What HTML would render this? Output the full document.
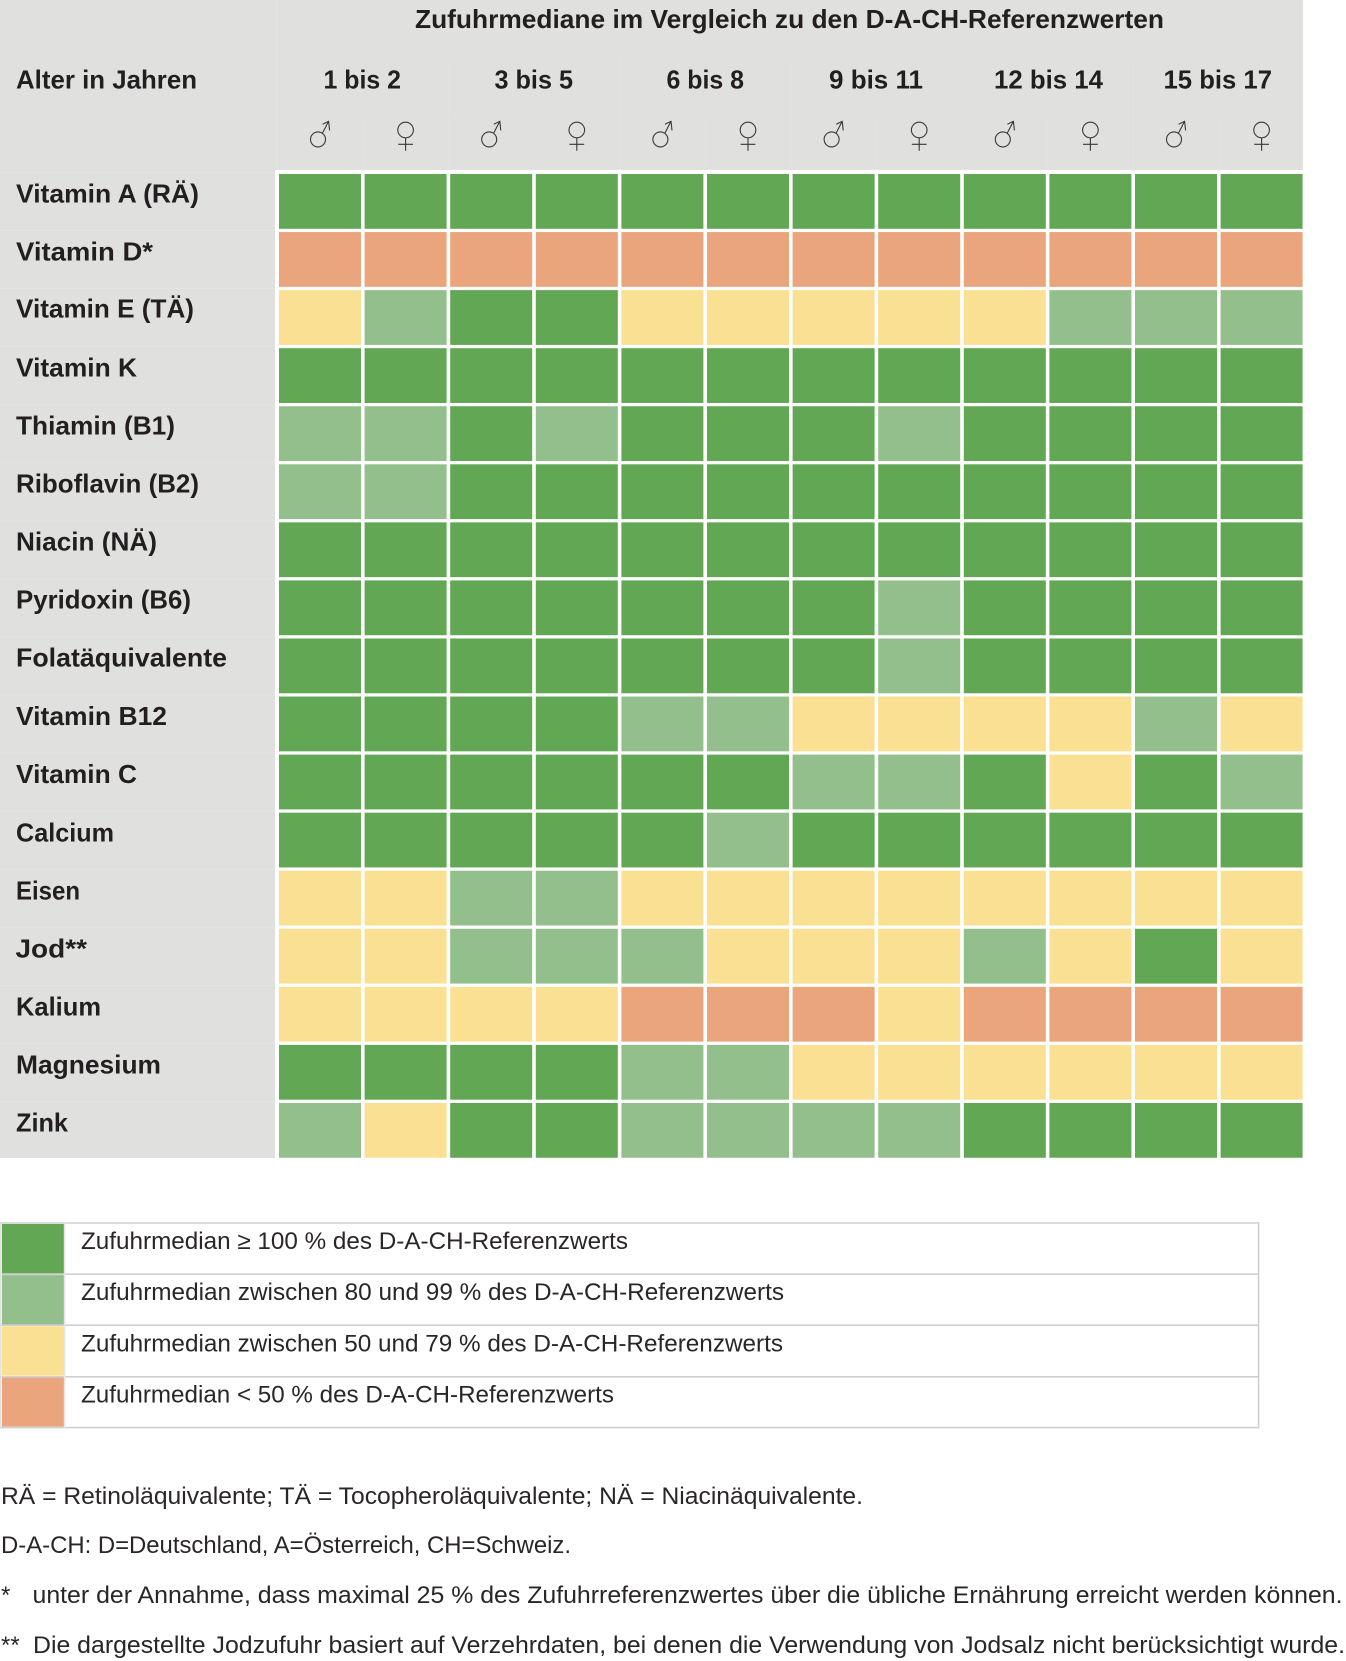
<!DOCTYPE html>
<html lang="de">
<head>
<meta charset="utf-8">
<title>Zufuhrmediane im Vergleich zu den D-A-CH-Referenzwerten</title>
<style>
  html, body { margin: 0; padding: 0; background: #ffffff; }
  svg { display: block; }
  text { font-family: "Liberation Sans", sans-serif; fill: #231f20; }
  .b { font-weight: 700; font-size: 26px; }
  .r { font-weight: 400; font-size: 24px; fill: #2a2627; }
</style>
</head>
<body>
<svg id="chart" xmlns="http://www.w3.org/2000/svg" width="1346" height="1661" viewBox="0 0 1346 1661">
  <rect x="0" y="0" width="1346" height="1661" fill="#ffffff"/>
  <rect x="0" y="0" width="1303" height="170" fill="#e0e0de"/>
  <rect x="0" y="170" width="275" height="988" fill="#e0e0de"/>
  <g id="header-lines" stroke="#e3e3e1" stroke-width="1">
    <line x1="277" y1="0" x2="277" y2="170"/>
    <line x1="0" y1="115.5" x2="1303" y2="115.5" stroke="#e2e2e0"/>
  </g>
  <g id="row-lines" stroke="#e4e4e2" stroke-width="1"></g>

  <text class="b" x="415" y="28" textLength="749" lengthAdjust="spacingAndGlyphs">Zufuhrmediane im Vergleich zu den D-A-CH-Referenzwerten</text>
  <text class="b" x="16" y="88.7" textLength="181" lengthAdjust="spacingAndGlyphs">Alter in Jahren</text>

  <text class="b" x="323.5" y="88.7" textLength="77.5" lengthAdjust="spacingAndGlyphs">1 bis 2</text>
  <text class="b" x="494.5" y="88.7" textLength="78.5" lengthAdjust="spacingAndGlyphs">3 bis 5</text>
  <text class="b" x="666.5" y="88.7" textLength="77.5" lengthAdjust="spacingAndGlyphs">6 bis 8</text>
  <text class="b" x="829" y="88.7" textLength="94" lengthAdjust="spacingAndGlyphs">9 bis 11</text>
  <text class="b" x="994" y="88.7" textLength="109" lengthAdjust="spacingAndGlyphs">12 bis 14</text>
  <text class="b" x="1163.5" y="88.7" textLength="108.5" lengthAdjust="spacingAndGlyphs">15 bis 17</text>

  <g id="sex-icons" fill="none" stroke="#3a3738" stroke-width="1.1"></g>

  <g>
    <text class="b" x="16" y="202.7" textLength="183" lengthAdjust="spacingAndGlyphs">Vitamin A (RÄ)</text>
    <text class="b" x="16" y="260.7" textLength="137" lengthAdjust="spacingAndGlyphs">Vitamin D*</text>
    <text class="b" x="16" y="317.7" textLength="178" lengthAdjust="spacingAndGlyphs">Vitamin E (TÄ)</text>
    <text class="b" x="16" y="376.7" textLength="121" lengthAdjust="spacingAndGlyphs">Vitamin K</text>
    <text class="b" x="16" y="434.7" textLength="159" lengthAdjust="spacingAndGlyphs">Thiamin (B1)</text>
    <text class="b" x="16" y="492.7" textLength="183" lengthAdjust="spacingAndGlyphs">Riboflavin (B2)</text>
    <text class="b" x="16" y="550.7" textLength="141" lengthAdjust="spacingAndGlyphs">Niacin (NÄ)</text>
    <text class="b" x="16" y="608.7" textLength="175" lengthAdjust="spacingAndGlyphs">Pyridoxin (B6)</text>
    <text class="b" x="16" y="666.7" textLength="211" lengthAdjust="spacingAndGlyphs">Folatäquivalente</text>
    <text class="b" x="16" y="725" textLength="151" lengthAdjust="spacingAndGlyphs">Vitamin B12</text>
    <text class="b" x="16" y="783" textLength="121" lengthAdjust="spacingAndGlyphs">Vitamin C</text>
    <text class="b" x="16" y="841.7" textLength="98" lengthAdjust="spacingAndGlyphs">Calcium</text>
    <text class="b" x="16" y="899.5" textLength="64" lengthAdjust="spacingAndGlyphs">Eisen</text>
    <text class="b" x="15.5" y="957.7" textLength="71.5" lengthAdjust="spacingAndGlyphs">Jod**</text>
    <text class="b" x="16" y="1015.5" textLength="85" lengthAdjust="spacingAndGlyphs">Kalium</text>
    <text class="b" x="16" y="1073.5" textLength="145" lengthAdjust="spacingAndGlyphs">Magnesium</text>
    <text class="b" x="16" y="1131.7" textLength="52" lengthAdjust="spacingAndGlyphs">Zink</text>
  </g>

  <g id="cells"></g>

  <g>
    <g id="legend-swatches"></g>
    <g fill="none" stroke="#d0d0d0" stroke-width="1.6">
      <line x1="0" y1="1223" x2="1259" y2="1223"/>
      <line x1="0" y1="1274.2" x2="1259" y2="1274.2"/>
      <line x1="0" y1="1325.2" x2="1259" y2="1325.2"/>
      <line x1="0" y1="1376.8" x2="1259" y2="1376.8"/>
      <line x1="0" y1="1427.6" x2="1259" y2="1427.6"/>
      <line x1="1258.6" y1="1222.2" x2="1258.6" y2="1428.4"/>
      <line x1="64.6" y1="1223" x2="64.6" y2="1428" stroke="#e6e6e6"/>
      <line x1="0.8" y1="1223" x2="0.8" y2="1428" stroke="#e2e2e2"/>
    </g>
    <text class="r" x="81" y="1249" textLength="547" lengthAdjust="spacingAndGlyphs">Zufuhrmedian ≥ 100 % des D-A-CH-Referenzwerts</text>
    <text class="r" x="81" y="1300" textLength="703" lengthAdjust="spacingAndGlyphs">Zufuhrmedian zwischen 80 und 99 % des D-A-CH-Referenzwerts</text>
    <text class="r" x="81" y="1351.5" textLength="702" lengthAdjust="spacingAndGlyphs">Zufuhrmedian zwischen 50 und 79 % des D-A-CH-Referenzwerts</text>
    <text class="r" x="81" y="1402.5" textLength="533" lengthAdjust="spacingAndGlyphs">Zufuhrmedian &lt; 50 % des D-A-CH-Referenzwerts</text>
  </g>

  <g>
    <text class="r" x="1" y="1504" textLength="862" lengthAdjust="spacingAndGlyphs">RÄ = Retinoläquivalente; TÄ = Tocopheroläquivalente; NÄ = Niacinäquivalente.</text>
    <text class="r" x="1" y="1553" textLength="570" lengthAdjust="spacingAndGlyphs">D-A-CH: D=Deutschland, A=Österreich, CH=Schweiz.</text>
    <text class="r" x="1" y="1603">*</text>
    <text class="r" x="32.5" y="1603" textLength="1310" lengthAdjust="spacingAndGlyphs">unter der Annahme, dass maximal 25 % des Zufuhrreferenzwertes über die übliche Ernährung erreicht werden können.</text>
    <text class="r" x="1" y="1653">**</text>
    <text class="r" x="33" y="1653" textLength="1312" lengthAdjust="spacingAndGlyphs">Die dargestellte Jodzufuhr basiert auf Verzehrdaten, bei denen die Verwendung von Jodsalz nicht berücksichtigt wurde.</text>
  </g>
</svg>

<script>
// Categories
const nutrients = ["Vitamin A (RÄ)", "Vitamin D*", "Vitamin E (TÄ)", "Vitamin K", "Thiamin (B1)", "Riboflavin (B2)", "Niacin (NÄ)", "Pyridoxin (B6)", "Folatäquivalente", "Vitamin B12", "Vitamin C", "Calcium", "Eisen", "Jod**", "Kalium", "Magnesium", "Zink"];
const ageGroups = ["1 bis 2", "3 bis 5", "6 bis 8", "9 bis 11", "12 bis 14", "15 bis 17"];
const sexes = ["maennlich", "weiblich"];
// Intake level per nutrient: 3 = at least 100 %, 2 = 80-99 %, 1 = 50-79 %, 0 = below 50 %
// Each row lists male, female for every age group.
const vitaminA = [3,3,3,3,3,3,3,3,3,3,3,3];
const vitaminD = [0,0,0,0,0,0,0,0,0,0,0,0];
const vitaminE = [1,2,3,3,1,1,1,1,1,2,2,2];
const vitaminK = [3,3,3,3,3,3,3,3,3,3,3,3];
const thiamin = [2,2,3,2,3,3,3,2,3,3,3,3];
const riboflavin = [2,2,3,3,3,3,3,3,3,3,3,3];
const niacin = [3,3,3,3,3,3,3,3,3,3,3,3];
const pyridoxin = [3,3,3,3,3,3,3,2,3,3,3,3];
const folat = [3,3,3,3,3,3,3,2,3,3,3,3];
const vitaminB12 = [3,3,3,3,2,2,1,1,1,1,2,1];
const vitaminC = [3,3,3,3,3,3,2,2,3,1,3,2];
const calcium = [3,3,3,3,3,2,3,3,3,3,3,3];
const eisen = [1,1,2,2,1,1,1,1,1,1,1,1];
const jod = [1,1,2,2,2,1,1,1,2,1,3,1];
const kalium = [1,1,1,1,0,0,0,1,0,0,0,0];
const magnesium = [3,3,3,3,2,2,1,1,1,1,1,1];
const zink = [2,1,3,3,2,2,2,2,3,3,3,3];
const levels = [vitaminA, vitaminD, vitaminE, vitaminK, thiamin, riboflavin, niacin, pyridoxin, folat, vitaminB12, vitaminC, calcium, eisen, jod, kalium, magnesium, zink];
const legendLevels = [3, 2, 1, 0];

const SVG_NS = "http://www.w3.org/2000/svg";
function xCell(c) { return 279 + c * 85.6; }
function yCell(r) { return 174 + r * 58.06; }
function fillFor(level) {
  if (level >= 3) return "#62a754";
  if (level === 2) return "#93bf8c";
  if (level === 1) return "#fae092";
  return "#eba57d";
}
function slug(s) {
  return s.toLowerCase().replace(/ä/g, "ae").replace(/[^a-z0-9]+/g, "-").replace(/^-|-$/g, "");
}
function make(tag, attrs, parent) {
  const el = document.createElementNS(SVG_NS, tag);
  for (const k in attrs) el.setAttribute(k, attrs[k]);
  parent.appendChild(el);
  return el;
}

const CELL_W = 82;
const CELL_H = 54.8;
const colCount = ageGroups.length * sexes.length;

// Row separators in the label column
const rowLines = document.getElementById("row-lines");
nutrients.forEach(function (name, r) {
  const sep = make("line", { x1: 0, x2: 275, y1: yCell(r) - 1.5, y2: yCell(r) - 1.5 }, rowLines);
  
  
});

// Header separators between age groups and sexes
const headerLines = document.getElementById("header-lines");
for (let c = 1; c < colCount; c++) {
  const top = c % sexes.length === 0 ? 60 : 115;
  const sep = make("line", { x1: xCell(c) - 1.5, x2: xCell(c) - 1.5, y1: top, y2: 170 }, headerLines);
  
  
}

// Heatmap cells
const cellsGroup = document.getElementById("cells");
levels.forEach(function (row, r) {
  row.forEach(function (level, c) {
    const age = ageGroups[Math.floor(c / sexes.length)];
    const sex = sexes[c % sexes.length];
    const cell = make("rect", { x: xCell(c), y: yCell(r), width: CELL_W, height: CELL_H, fill: fillFor(level) }, cellsGroup);
    
    
  });
});

// Sex icons
const iconGroup = document.getElementById("sex-icons");
for (let c = 0; c < colCount; c++) {
  const cx = xCell(c) + CELL_W / 2;
  const g = make("g", {}, iconGroup);
  if (c % sexes.length === 0) {
    
    
    make("circle", { cx: cx - 2, cy: 139.4, r: 7.5 }, g);
    make("path", { d: "M" + (cx + 2.4) + " 133.3L" + (cx + 8.6) + " 121.3M" + (cx + 2.6) + " 124.2L" + (cx + 8.6) + " 121.3L" + (cx + 9.6) + " 130.4" }, g);
  } else {
    
    
    make("circle", { cx: cx, cy: 130, r: 7.8 }, g);
    make("path", { d: "M" + cx + " 137.8V150.7M" + (cx - 7.4) + " 144.3H" + (cx + 7.4) }, g);
  }
}

// Legend swatches
const swatchGroup = document.getElementById("legend-swatches");
legendLevels.forEach(function (level, i) {
  const sw = make("rect", { x: 2, y: 1224 + i * 51.1, width: 62, height: 49.4, fill: fillFor(level) }, swatchGroup);
  
  
});
</script>
</body>
</html>
